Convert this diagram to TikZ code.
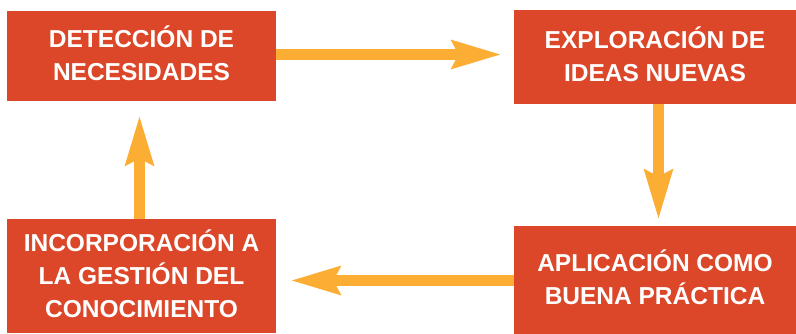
\documentclass[tikz,border=0pt]{standalone}
\usepackage{fontspec}
\setmainfont{Liberation Sans}
\usetikzlibrary{arrows.meta}
\definecolor{boxred}{RGB}{219,71,40}
\definecolor{arroworange}{RGB}{252,173,51}
\newcommand\capline[1]{\raisebox{0pt}[\fontcharht\font`D][0pt]{#1}}
\tikzset{
  box/.style={fill=boxred, text=white, align=center, inner sep=0pt,
    font=\fontsize{24.5}{33}\selectfont\bfseries},
  flow/.style={draw=arroworange, line width=11pt,
    -{Stealth[length=49pt, width=27pt, inset=6pt, fill=arroworange]}}
}
\begin{document}
\begin{tikzpicture}[x=1pt, y=-1pt]
\useasboundingbox (0,0) rectangle (796,334);
\node[box, minimum width=269pt, minimum height=90pt] (b1) at (141.5,56) {\capline{DETECCIÓN DE}\\NECESIDADES};
\node[box, minimum width=282pt, minimum height=94pt] (b2) at (655,57) {\capline{EXPLORACIÓN DE}\\IDEAS NUEVAS};
\node[box, minimum width=282pt, minimum height=108pt] (b3) at (655,280) {\capline{APLICACIÓN COMO}\\BUENA PRÁCTICA};
\node[box, minimum width=269pt, minimum height=114pt] (b4) at (141.5,276) {\capline{INCORPORACIÓN A}\\LA GESTIÓN DEL\\CONOCIMIENTO};
\draw[flow, shorten >=12pt] ([yshift=1.5pt]b1.east) -- ([yshift=1.5pt]b1.east -| b2.west);
\draw[flow, shorten >=6pt] ([xshift=3.5pt]b2.south) -- ([xshift=3.5pt]b3.north);
\draw[flow, shorten >=14pt] ([yshift=-0.5pt]b3.west) -- ([yshift=-0.5pt]b3.west -| b4.east);
\draw[flow, shorten >=14pt] ([xshift=-2pt]b4.north) -- ([xshift=-2pt]b1.south);
\end{tikzpicture}
\end{document}
